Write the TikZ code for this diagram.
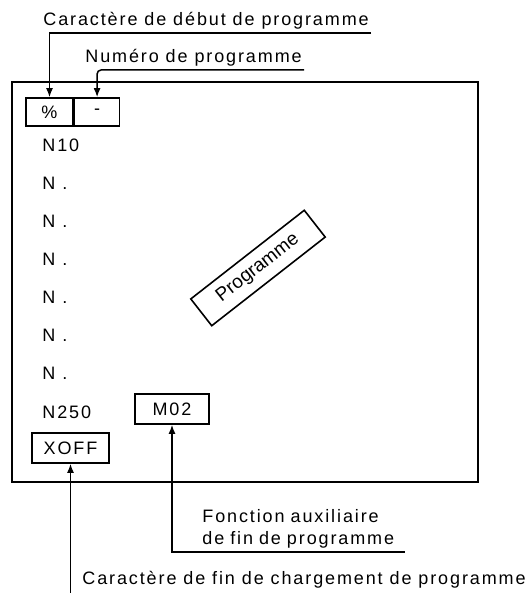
\documentclass[tikz,border=0pt]{standalone}
\usepackage{fontspec}
\setmainfont{Liberation Sans}[LetterSpace=10.5]
\usetikzlibrary{positioning,arrows.meta,calc}
\tikzset{
  cadre/.style={draw, line width=1pt},
  case/.style={rectangle, draw, line width=0.8pt, inner sep=0pt,
               minimum height=14pt, align=center},
  bloc/.style={rectangle, draw, line width=0.8pt, inner sep=0pt,
               minimum height=15pt, align=center},
  lbl/.style={inner xsep=1pt, inner ysep=1.5pt, anchor=south west},
  ligne/.style={anchor=west, inner sep=0pt},
  fleche/.style={-{Latex[length=4.5pt,width=3.5pt]}, line width=0.75pt},
}

\begin{document}
\begin{tikzpicture}[x=0.5pt, y=-0.5pt, font=\fontsize{9}{11}\selectfont]
  \useasboundingbox (0,0) rectangle (527,593);
  \draw[cadre] (12,82) rectangle (478,482);
  % debut de programme
  \node[case, minimum width=23.5pt] (pct) at (49.5,112) {\%};
  \node[case, minimum width=22.5pt, right=0pt of pct] (num) {-};
  % lignes du programme
  \node[ligne] (n0) at (42,145) {N10};
  \foreach \k in {1,...,6}
    \node[ligne] (n\k) at (42,145+38*\k) {N .};
  \node[ligne] (n7) at (42,412) {N250};
  \node[bloc, minimum width=37pt] (m02) at (172,409) {M02};
  \node[bloc, minimum width=38.5pt] (xoff) at (70.5,448) {XOFF};
  \node[bloc, rotate=38, minimum width=72pt, minimum height=17pt,
        font=\fontsize{9.5}{11}\selectfont\addfontfeature{LetterSpace=0}]
    (prog) at (258,268) {Programme};
  % renvois
  \node[lbl] (debut) at (41,33) {Caractère de début de programme};
  \node[lbl] (numero) at (83,70) {Numéro de programme};
  \node[lbl, text width=100pt, align=left] (fonction) at (200,552)
    {Fonction auxiliaire\\de fin de programme};
  \node[ligne] (charg) at (82,580) {Caractère de fin de chargement de programme};
  \coordinate (bas) at (xoff.south |- 0,593);
  \draw[fleche] (debut.south east) -| (pct.north);
  \draw[fleche, rounded corners=2pt] (numero.south east) -| (num.north);
  \draw[fleche] (fonction.south east) -| (m02.south);
  \draw[fleche] (bas) -- (xoff.south);
\end{tikzpicture}
\end{document}
